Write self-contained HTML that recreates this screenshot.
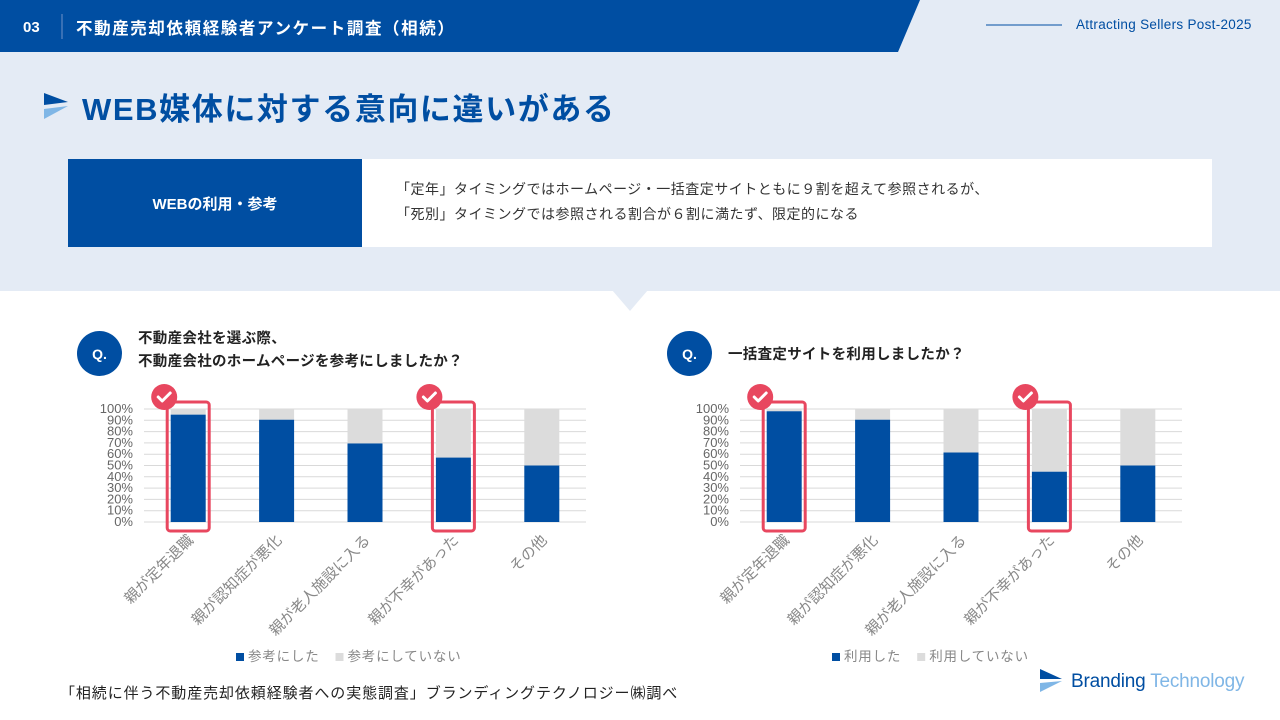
<!DOCTYPE html>
<html><head><meta charset="utf-8">
<style>
body{margin:0;width:1280px;height:720px;overflow:hidden;background:#fff;font-family:"Liberation Sans","Noto Sans CJK JP",sans-serif;position:relative}
.abs{position:absolute}
</style></head><body>
<div class="abs" style="left:0;top:0;width:1280px;height:291px;background:#e4ebf5"></div>
<svg class="abs" style="left:0;top:0" width="1280" height="320">
<polygon points="0,0 920,0 898,52 0,52" fill="#004ea2"/>
<polygon points="612,290 648,290 630,311" fill="#e4ebf5"/>
<line x1="62" y1="14" x2="62" y2="39" stroke="#6f93c8" stroke-width="1"/>
<line x1="986" y1="25" x2="1062" y2="25" stroke="#004ea2" stroke-width="1"/>
<polygon points="44,93 68,102 44,105" fill="#004ea2"/>
<polygon points="44,109 68,106 44,119" fill="#7fb6e6"/>
</svg>
<div class="abs" style="left:23px;top:19px;color:#fff;font-weight:bold;font-size:15px">03</div>
<div class="abs" style="left:76px;top:15px;color:#fff;font-weight:bold;font-size:16.5px;letter-spacing:1.6px">不動産売却依頼経験者アンケート調査（相続）</div>
<div class="abs" style="left:1076px;top:17px;color:#004ea2;font-size:13.5px;letter-spacing:0.3px">Attracting Sellers Post-2025</div>
<div class="abs" style="left:82px;top:84px;color:#004ea2;font-weight:bold;font-size:31px;letter-spacing:1.6px">WEB媒体に対する意向に違いがある</div>
<div class="abs" style="left:68px;top:159px;width:294px;height:88px;background:#004ea2;color:#fff;font-weight:bold;font-size:15px;display:flex;align-items:center;justify-content:center">WEBの利用・参考</div>
<div class="abs" style="left:362px;top:159px;width:850px;height:88px;background:#fff;color:#333;font-size:14px;letter-spacing:0.5px;line-height:25px;box-sizing:border-box;padding:18px 0 0 34px">「定年」タイミングではホームページ・一括査定サイトともに９割を超えて参照されるが、<br>「死別」タイミングでは参照される割合が６割に満たず、限定的になる</div>

<div class="abs" style="left:77px;top:331px;width:45px;height:45px;border-radius:50%;background:#004ea2;color:#fff;font-weight:bold;font-size:14px;display:flex;align-items:center;justify-content:center">Q.</div>
<div class="abs" style="left:138px;top:328px;font-weight:bold;font-size:14.5px;line-height:23px;color:#222;letter-spacing:0.3px">不動産会社を選ぶ際、<br>不動産会社のホームページを参考にしましたか？</div>
<div class="abs" style="left:667px;top:331px;width:45px;height:45px;border-radius:50%;background:#004ea2;color:#fff;font-weight:bold;font-size:14px;display:flex;align-items:center;justify-content:center">Q.</div>
<div class="abs" style="left:728px;top:343px;font-weight:bold;font-size:14.5px;color:#222;letter-spacing:0.3px">一括査定サイトを利用しましたか？</div>

<svg id="charts" class="abs" style="left:0;top:0" width="1280" height="720"></svg>

<div class="abs" style="left:60px;top:682px;font-size:15px;letter-spacing:0.9px;color:#222">「相続に伴う不動産売却依頼経験者への実態調査」ブランディングテクノロジー㈱調べ</div>
<svg class="abs" style="left:1040px;top:669px" width="30" height="26">
<polygon points="0,0 22,10 0,10" fill="#004ea2"/><polygon points="0,23 22,12 0,14" fill="#7fb6e6"/></svg>
<div class="abs" style="left:1071px;top:671px;font-size:19px;letter-spacing:-0.2px;font-weight:500"><span style="color:#004ea2">Branding</span> <span style="color:#7fb6e6">Technology</span></div>

<script>
const categories=["親が定年退職","親が認知症が悪化","親が老人施設に入る","親が不幸があった","その他"];
const hpValues=[95,90.5,69.5,57,50];
const siteValues=[98,90.5,61.5,44.5,50];
const yTicks=[0,10,20,30,40,50,60,70,80,90,100];
const highlighted=[0,3];
const legend1=["参考にした","参考にしていない"];
const legend2=["利用した","利用していない"];
const NS="http://www.w3.org/2000/svg";
const svg=document.getElementById('charts');
function mk(t,a){const e=document.createElementNS(NS,t);for(const k in a)e.setAttribute(k,a[k]);svg.appendChild(e);return e;}
function draw(x0,x1,values,legend,id){
  const yTop=409,yBot=522;
  const y=v=>yBot-(yBot-yTop)*v/100;
  const step=(x1-x0)/categories.length;
  const cx=i=>x0+step*(i+0.5);
  const bw=35;
  yTicks.forEach(t=>{
    const l=mk('line',{x1:x0,x2:x1,y1:y(t),y2:y(t),stroke:'#d9d9d9','stroke-width':1});
    
    
    const tx=mk('text',{x:x0-11,y:y(t)+4,'text-anchor':'end','font-size':13,fill:'#666'});
    tx.textContent=t+'%';
    
    
  });
  values.forEach((v,i)=>{
    const r1=mk('rect',{x:cx(i)-bw/2,y:y(100),width:bw,height:y(v)-y(100),fill:'#dcdcdc'});
    
    
    const r=mk('rect',{x:cx(i)-bw/2,y:y(v),width:bw,height:yBot-y(v),fill:'#004ea2'});
    
    
    const tx=mk('text',{x:0,y:0,'text-anchor':'end','font-size':15,fill:'#888',transform:`translate(${cx(i)+6},${yBot+19}) rotate(-45)`});
    tx.textContent=categories[i];
    
    
  });
  highlighted.forEach(i=>{
    const b=mk('rect',{x:cx(i)-21,y:yTop-7,width:42,height:129,rx:3,fill:'none',stroke:'#e8475f','stroke-width':3});
    
    
    const c=mk('circle',{cx:cx(i)-24,cy:yTop-12,r:13,fill:'#e8475f'});
    
    
    mk('path',{d:`M${cx(i)-30},${yTop-12} l4,4 l8,-8`,fill:'none',stroke:'#fff','stroke-width':3,'stroke-linecap':'round','stroke-linejoin':'round'});
  });
  const lx=x0+92;
  const s1=mk('rect',{x:lx,y:653,width:8,height:8,fill:'#004ea2'});
  
  
  const t1=mk('text',{x:lx+12,y:661,'font-size':13.5,fill:'#888','letter-spacing':'0.8'});t1.textContent=legend[0];
  
  
  const off=lx+12+legend[0].length*14.3+16;
  const s2=mk('rect',{x:off,y:653,width:8,height:8,fill:'#dcdcdc'});
  
  
  const t2=mk('text',{x:off+12,y:661,'font-size':13.5,fill:'#888','letter-spacing':'0.8'});t2.textContent=legend[1];
  
  
}
draw(144,586,hpValues,legend1,'hp');
draw(740,1182,siteValues,legend2,'site');
</script>
</body></html>
